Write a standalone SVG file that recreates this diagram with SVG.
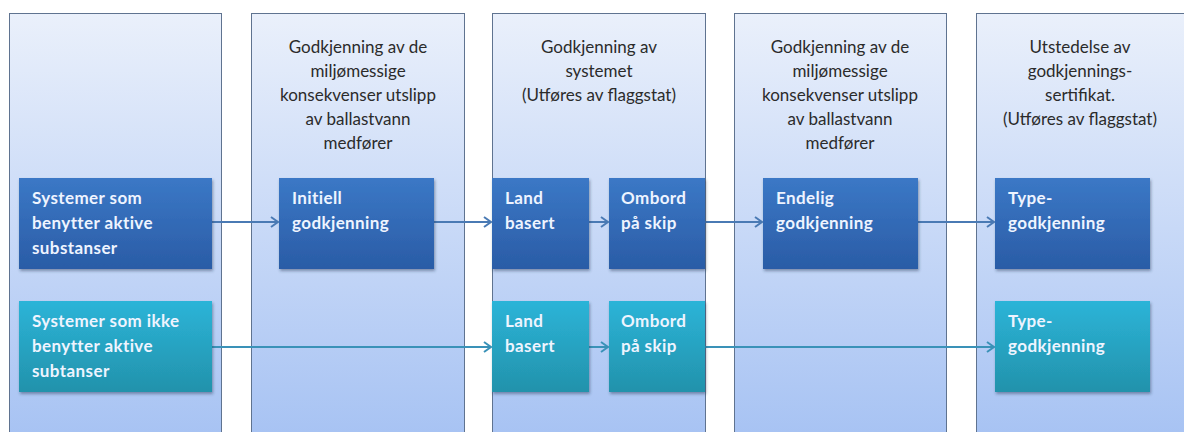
<svg xmlns="http://www.w3.org/2000/svg" width="1184" height="432" viewBox="0 0 1184 432">
<defs>
<linearGradient id="colg" x1="0" y1="0" x2="0" y2="1">
<stop offset="0" stop-color="#eaf0fb"/>
<stop offset="1" stop-color="#a6c2f3"/>
</linearGradient>
<linearGradient id="darkg" x1="0" y1="0" x2="0" y2="1">
<stop offset="0" stop-color="#3b78c6"/>
<stop offset="1" stop-color="#2a5ca6"/>
</linearGradient>
<linearGradient id="tealg" x1="0" y1="0" x2="0" y2="1">
<stop offset="0" stop-color="#2cb4d8"/>
<stop offset="1" stop-color="#2292ab"/>
</linearGradient>
<filter id="sh" x="-10%" y="-10%" width="125%" height="130%">
<feDropShadow dx="1" dy="2" stdDeviation="1.5" flood-color="#203050" flood-opacity="0.45"/>
</filter>
<marker id="ah1" markerWidth="12" markerHeight="14" refX="9" refY="6" orient="auto" markerUnits="userSpaceOnUse">
<path d="M2,1 L9,6 L2,11" fill="none" stroke="#4a7ab4" stroke-width="2"/>
</marker>
<marker id="ah2" markerWidth="12" markerHeight="14" refX="9" refY="6" orient="auto" markerUnits="userSpaceOnUse">
<path d="M2,1 L9,6 L2,11" fill="none" stroke="#3a92b8" stroke-width="2"/>
</marker>
</defs>
<style>
.col{fill:url(#colg);stroke:#5f7390;stroke-width:1}
.hd{font-family:Lato,"Open Sans",sans-serif;font-size:17px;fill:#2b2b2b;text-anchor:middle}
.bx1{fill:url(#darkg);filter:url(#sh)}
.bx2{fill:url(#tealg);filter:url(#sh)}
.bt{font-family:Lato,"Open Sans",sans-serif;font-size:17px;font-weight:bold;letter-spacing:0.4px;fill:#eef4ff}
.c1{stroke:#4a7ab4;stroke-width:2;fill:none;marker-end:url(#ah1)}
.c2{stroke:#3a92b8;stroke-width:2;fill:none;marker-end:url(#ah2)}
</style>
<rect width="1184" height="432" fill="#ffffff"/>
<g id="columns">
<g id="col1"><rect class="col" x="9.5" y="13.5" width="212" height="430"/></g>
<g id="col2"><rect class="col" x="251.5" y="13.5" width="213" height="430"/>
<text class="hd" x="358" y="53">Godkjenning av de</text>
<text class="hd" x="358" y="77">miljømessige</text>
<text class="hd" x="358" y="101">konsekvenser utslipp</text>
<text class="hd" x="358" y="125">av ballastvann</text>
<text class="hd" x="358" y="149">medfører</text></g>
<g id="col3"><rect class="col" x="492.5" y="13.5" width="213" height="430"/>
<text class="hd" x="599" y="53">Godkjenning av</text>
<text class="hd" x="599" y="77">systemet</text>
<text class="hd" x="599" y="101">(Utføres av flaggstat)</text></g>
<g id="col4"><rect class="col" x="734.5" y="13.5" width="212" height="430"/>
<text class="hd" x="840" y="53">Godkjenning av de</text>
<text class="hd" x="840" y="77">miljømessige</text>
<text class="hd" x="840" y="101">konsekvenser utslipp</text>
<text class="hd" x="840" y="125">av ballastvann</text>
<text class="hd" x="840" y="149">medfører</text></g>
<g id="col5"><rect class="col" x="976.5" y="13.5" width="213" height="430"/>
<text class="hd" x="1080" y="53">Utstedelse av</text>
<text class="hd" x="1080" y="77">godkjennings-</text>
<text class="hd" x="1080" y="101">sertifikat.</text>
<text class="hd" x="1080" y="125">(Utføres av flaggstat)</text></g>
</g>
<g id="connectors">
<path class="c1" d="M212,222 H278"/>
<path class="c1" d="M434,222 H491"/>
<path class="c1" d="M589,222 H608"/>
<path class="c1" d="M705,222 H762"/>
<path class="c1" d="M918,222 H994"/>
<path class="c2" d="M212,347 H491"/>
<path class="c2" d="M589,347 H608"/>
<path class="c2" d="M705,347 H994"/>
</g>
<g id="n-sys-aktive"><rect class="bx1" x="19" y="178" width="193" height="91"/>
<text class="bt" x="32" y="204">Systemer som</text>
<text class="bt" x="32" y="229">benytter aktive</text>
<text class="bt" x="32" y="254">substanser</text></g>
<g id="n-initiell"><rect class="bx1" x="279" y="178" width="155" height="91"/>
<text class="bt" x="292" y="204">Initiell</text>
<text class="bt" x="292" y="229">godkjenning</text></g>
<g id="n-land1"><rect class="bx1" x="492" y="178" width="97" height="91"/>
<text class="bt" x="505" y="204">Land</text>
<text class="bt" x="505" y="229">basert</text></g>
<g id="n-ombord1"><rect class="bx1" x="609" y="178" width="96" height="91"/>
<text class="bt" x="621" y="204">Ombord</text>
<text class="bt" x="621" y="229">på skip</text></g>
<g id="n-endelig"><rect class="bx1" x="763" y="178" width="155" height="91"/>
<text class="bt" x="776" y="204">Endelig</text>
<text class="bt" x="776" y="229">godkjenning</text></g>
<g id="n-type1"><rect class="bx1" x="995" y="178" width="155" height="91"/>
<text class="bt" x="1008" y="204">Type-</text>
<text class="bt" x="1008" y="229">godkjenning</text></g>
<g id="n-sys-ikke"><rect class="bx2" x="19" y="301" width="193" height="91"/>
<text class="bt" x="32" y="327">Systemer som ikke</text>
<text class="bt" x="32" y="352">benytter aktive</text>
<text class="bt" x="32" y="377">subtanser</text></g>
<g id="n-land2"><rect class="bx2" x="492" y="301" width="97" height="91"/>
<text class="bt" x="505" y="327">Land</text>
<text class="bt" x="505" y="352">basert</text></g>
<g id="n-ombord2"><rect class="bx2" x="609" y="301" width="96" height="91"/>
<text class="bt" x="621" y="327">Ombord</text>
<text class="bt" x="621" y="352">på skip</text></g>
<g id="n-type2"><rect class="bx2" x="995" y="301" width="155" height="91"/>
<text class="bt" x="1008" y="327">Type-</text>
<text class="bt" x="1008" y="352">godkjenning</text></g>
</svg>
